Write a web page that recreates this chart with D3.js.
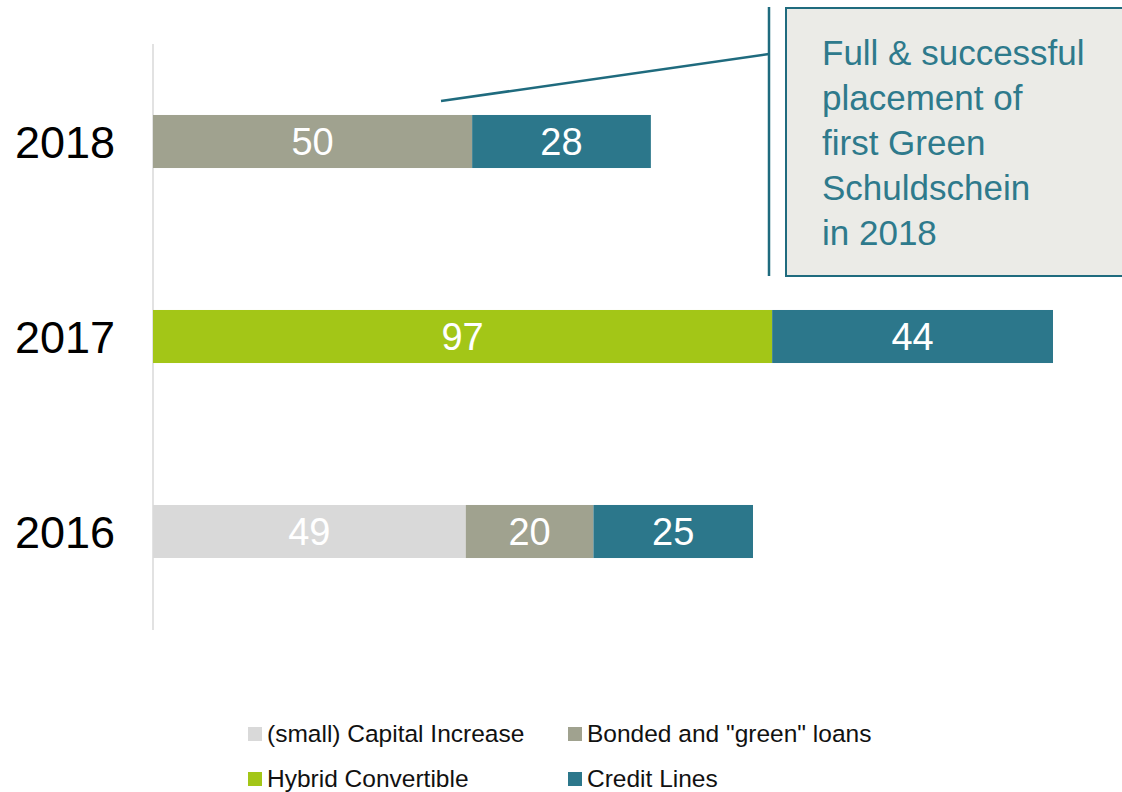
<!DOCTYPE html>
<html>
<head>
<meta charset="utf-8">
<script src="https://cdn.jsdelivr.net/npm/d3@7"></script>
<style>
  body { margin: 0; background: #fff; }
  text { font-family: "Liberation Sans", Arial, sans-serif; }
</style>
</head>
<body>
<script>
// data (EUR m)
var years = ["2018", "2017", "2016"];
var seriesNames = ["(small) Capital Increase", "Bonded and \"green\" loans", "Hybrid Convertible", "Credit Lines"];
var seriesKeys = ["capital", "bonded", "hybrid", "credit"];
var capital = [0, 0, 49];
var bonded  = [50, 0, 20];
var hybrid  = [0, 97, 0];
var credit  = [28, 44, 25];
var colors = ["#d9d9d9", "#a0a28f", "#a3c617", "#2c778b"];
var noteLines = ["Full & successful", "placement of", "first Green", "Schuldschein", "in 2018"];

var width = 1122, height = 792;

var rows = years.map(function(y, i){
	return {year: y, capital: capital[i], bonded: bonded[i], hybrid: hybrid[i], credit: credit[i]};
});

var svg = d3.select("body").append("svg")
	.attr("width", width)
	.attr("height", height);

var x = d3.scaleLinear().domain([0, 141]).range([153, 1053]);
var y = d3.scaleBand().domain(years).range([44, 629])
	.paddingInner(0.728).paddingOuter(0.364);

var stack = d3.stack().keys(seriesKeys);
var layers = stack(rows);

// axis line on the left
svg.append("line")
	.attr("x1", x(0)).attr("x2", x(0))
	.attr("y1", 44).attr("y2", 630)
	.attr("stroke", "#d9d9d9").attr("stroke-width", 1.5);

var g = svg.selectAll(".layer").data(layers)
	.enter().append("g").attr("class", "layer")
	.attr("fill", function(d, i){ return colors[i]; });

g.selectAll("rect").data(function(d){ return d.filter(function(p){ return p[1] > p[0]; }); })
	.enter().append("rect")
	.attr("x", function(d){ return x(d[0]); })
	.attr("width", function(d){ return x(d[1]) - x(d[0]); })
	.attr("y", function(d){ return y(d.data.year); })
	.attr("height", y.bandwidth());

g.selectAll("text").data(function(d){ return d.filter(function(p){ return p[1] > p[0]; }); })
	.enter().append("text")
	.attr("x", function(d){ return (x(d[0]) + x(d[1])) / 2; })
	.attr("y", function(d){ return y(d.data.year) + y.bandwidth() / 2 + 13; })
	.attr("text-anchor", "middle")
	.attr("fill", "#fff")
	.style("font-size", "38px")
	.text(function(d){ return d[1] - d[0]; });

// year labels
svg.selectAll(".year").data(years)
	.enter().append("text").attr("class", "year")
	.attr("x", 115)
	.attr("y", function(d){ return y(d) + y.bandwidth() / 2 + 16; })
	.attr("text-anchor", "end")
	.attr("fill", "#000")
	.style("font-size", "45px")
	.text(function(d){ return d; });

// callout
var teal = "#1f6b7e";
svg.append("line")
	.attr("x1", 441).attr("y1", 101).attr("x2", 769).attr("y2", 54)
	.attr("stroke", teal).attr("stroke-width", 2.5);
svg.append("line")
	.attr("x1", 769).attr("y1", 7).attr("x2", 769).attr("y2", 276)
	.attr("stroke", teal).attr("stroke-width", 2.5);
svg.append("rect")
	.attr("x", 786).attr("y", 8).attr("width", 345).attr("height", 268)
	.attr("fill", "#ebebe7").attr("stroke", teal).attr("stroke-width", 2);
svg.append("g").selectAll("text").data(noteLines)
	.enter().append("text")
	.attr("x", 822)
	.attr("y", function(d, i){ return 65 + i * 45; })
	.attr("fill", "#2e7a8c")
	.style("font-size", "35px")
	.text(function(d){ return d; });

// legend
var legendPos = [[248, 734], [568, 734], [248, 779], [568, 779]];
var lg = svg.selectAll(".legend").data(seriesNames)
	.enter().append("g").attr("class", "legend")
	.attr("transform", function(d, i){ return "translate(" + legendPos[i][0] + "," + legendPos[i][1] + ")"; });
lg.append("rect")
	.attr("x", 0).attr("y", -7).attr("width", 14).attr("height", 14)
	.attr("fill", function(d, i){ return colors[i]; });
lg.append("text")
	.attr("x", 19).attr("y", 8)
	.attr("fill", "#111")
	.style("font-size", "24.5px")
	.text(function(d){ return d; });
</script>
</body>
</html>
